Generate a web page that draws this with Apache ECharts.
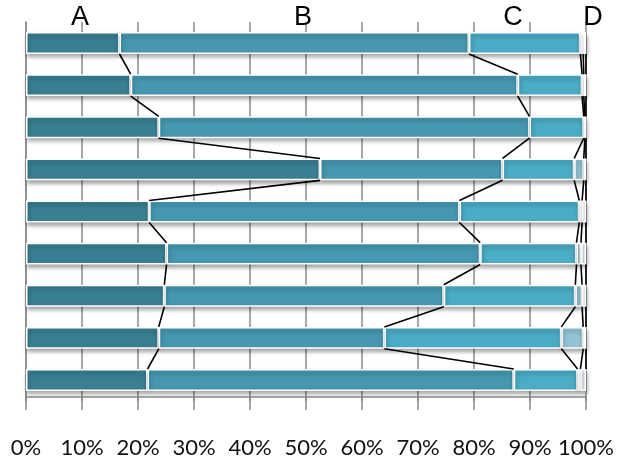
<!DOCTYPE html>
<html>
<head>
<meta charset="utf-8">
<script src="https://cdn.jsdelivr.net/npm/echarts@6/dist/echarts.min.js"></script>
<style>
html,body{margin:0;padding:0;background:#fff;}
#c{width:621px;height:459px;}
</style>
</head>
<body>
<div id="c"></div>
<script>
var categories = ['1','2','3','4','5','6','7','8','9'];
var seriesNames = ['A','B','C','D'];
var valuesA = [16.7, 18.7, 23.7, 52.5, 22.0, 25.1, 24.7, 23.7, 21.7];
var valuesB = [62.4, 69.1, 66.2, 32.6, 55.4, 56.0, 49.9, 40.3, 65.4];
var valuesC = [19.9, 11.5, 9.7, 12.8, 21.4, 17.2, 23.5, 31.6, 11.4];
var valuesD = [0.5, 0.3, 0.2, 1.7, 0.5, 0.8, 1.2, 3.9, 0.5];
var valuesE = [0.5, 0.4, 0.2, 0.4, 0.7, 0.9, 0.7, 0.5, 1.0];
var tickLabels = ['0%','10%','20%','30%','40%','50%','60%','70%','80%','90%','100%'];

var colors = ['#387f93', '#4598b0', '#4bacc6', '#93c4d5', '#e2eff4'];
var allValues = [valuesA, valuesB, valuesC, valuesD, valuesE];
var BAR_FRAC = 0.52;

// cumulative ends for series lines
var cums = [];
(function(){
  var run = categories.map(function(){return 0;});
  allValues.forEach(function(vals){
    run = run.map(function(r, i){ return r + vals[i]; });
    cums.push(run.slice());
  });
})();

var chart = echarts.init(document.getElementById('c'), null, {renderer:'canvas'});

var barSeries = allValues.map(function(vals, k){
  return {
    type: 'bar',
    name: k < seriesNames.length ? seriesNames[k] : 'E',
    stack: 'total',
    data: vals,
    barWidth: (BAR_FRAC*100) + '%',
    z: 2,
    itemStyle: {
      color: colors[k],
      borderColor: '#ffffff',
      borderWidth: 1.5,
      shadowColor: 'rgba(0,0,0,0.35)',
      shadowBlur: 4,
      shadowOffsetX: 1,
      shadowOffsetY: 3
    },
    emphasis: {disabled: true}
  };
});

var lineData = categories.slice(0, categories.length - 1).map(function(c, i){ return [0, i]; });

var seriesLines = {
  type: 'custom',
  z: 5,
  data: lineData,
  encode: {x: 0, y: 1},
  silent: true,
  renderItem: function(params, api){
    var i = params.dataIndex;
    var band = api.size([0, 1])[1];
    var h = band * BAR_FRAC / 2;
    var children = cums.map(function(cum){
      var p1 = api.coord([cum[i], i]);
      var p2 = api.coord([cum[i+1], i+1]);
      return {
        type: 'line',
        shape: {x1: p1[0], y1: p1[1] + h, x2: p2[0], y2: p2[1] - h},
        style: {stroke: '#000', lineWidth: 1.6}
      };
    });
    return {type: 'group', children: children};
  }
};

var labelX = [80, 303, 513, 593];

var option = {
  animation: false,
  grid: {left: 26, right: 35, top: 22, bottom: 54, containLabel: false},
  xAxis: {
    type: 'value',
    min: 0, max: 100, interval: 10,
    offset: -4,
    axisLine: {show: true, lineStyle: {color: '#8a8a8a', width: 1.5}},
    axisTick: {show: true, length: 13, lineStyle: {color: '#8a8a8a', width: 1.5}},
    splitLine: {show: true, lineStyle: {color: '#8a8a8a', width: 1.5}},
    axisLabel: {
      margin: 40,
      fontFamily: 'Lato',
      fontSize: 22,
      color: '#111',
      formatter: function(v){ return tickLabels[Math.round(v/10)]; }
    }
  },
  yAxis: {
    type: 'category',
    data: categories,
    inverse: true,
    axisLine: {show: true, lineStyle: {color: '#8a8a8a', width: 1.5}},
    axisTick: {show: false},
    axisLabel: {show: false},
    splitLine: {show: false}
  },
  graphic: seriesNames.map(function(n, k){
    return {
      type: 'text',
      x: labelX[k],
      y: 18,
      style: {
        text: n,
        fill: '#000',
        font: '27px "Liberation Sans", Arial, sans-serif',
        textAlign: 'center',
        textVerticalAlign: 'middle'
      },
      z: 10
    };
  }),
  series: barSeries.concat([seriesLines])
};

chart.setOption(option);
</script>
</body>
</html>
